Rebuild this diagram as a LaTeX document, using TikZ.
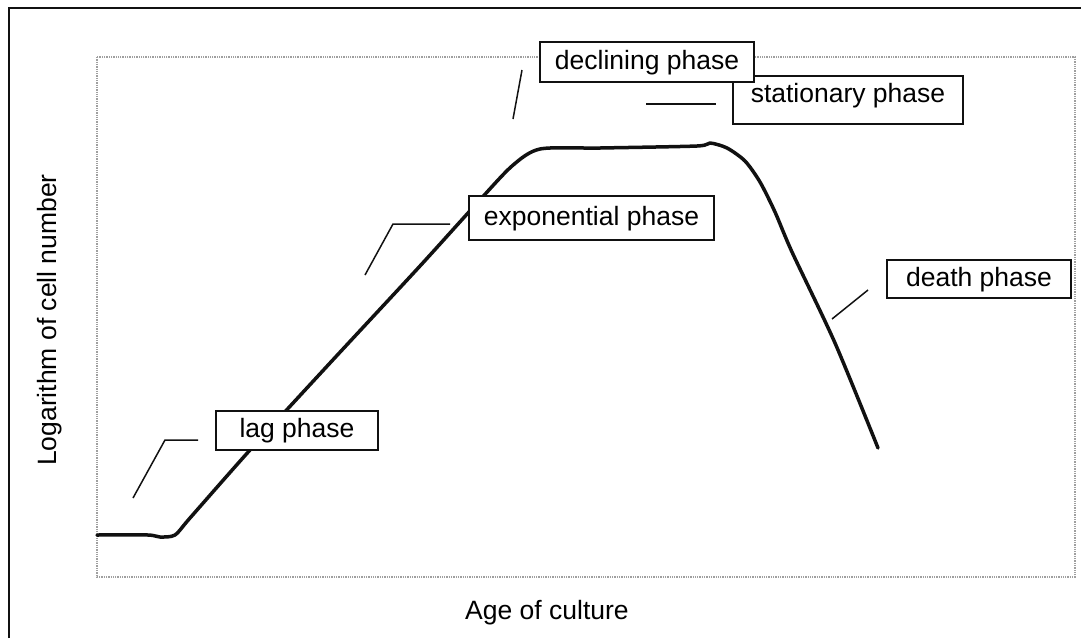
\documentclass[tikz,border=0pt]{standalone}
\usepackage{fontspec}
\setmainfont{Liberation Sans}
\usetikzlibrary{positioning,calc}
\definecolor{Ink}{HTML}{111111}
\tikzset{
  phasebox/.style={draw=Ink,line width=1.9pt,fill=white,inner sep=0pt,
    font=\fontsize{26.5}{30}\selectfont,text height=19pt,text depth=5pt},
  leader/.style={draw=Ink,line width=1.5pt},
  growth/.style={draw=Ink,line width=3.5pt,line join=round,line cap=round},
}
\newcommand{\PhaseBox}[6]{%
  \node[phasebox,minimum width=#4pt,minimum height=#5pt] (#1) at (#2,#3) {#6};%
}

\begin{document}
\begin{tikzpicture}[x=1pt,y=-1pt]
\useasboundingbox (0,0) rectangle (1090,638);
% outer frame
\draw[Ink,line width=1.7pt] (9,638) -- (9,8) -- (1081,8);
% plot area
\draw[gray!75,line width=1.3pt,densely dotted] (97,57) rectangle (1075,577);
% growth curve
\draw[growth] plot[smooth,tension=0.45] coordinates {
  (97,535) (148,535) (160,537) (175,535) (190,518) (250,450) (330,363)
  (420,266) (478,202) (512,166) (540,149) (600,148) (697,146) (710,143)
  (727,148) (745,161) (760,182) (775,212) (792,252) (835,343) (878,448)};
% phase labels
\PhaseBox{lag}{297}{430.5}{162}{39}{lag phase}
\PhaseBox{expo}{591.5}{218}{245}{44}{exponential phase}
\PhaseBox{stat}{848}{100}{230}{48}{\raisebox{5pt}{stationary phase}}
\PhaseBox{decl}{647}{62}{214}{40}{declining phase}
\PhaseBox{death}{979}{279}{184}{38}{death phase}
% leader lines
\coordinate (lagtip) at (133,498);
\coordinate (expotip) at (365,275);
\coordinate (decltip) at (513,119);
\coordinate (stattip) at (646,104);
\coordinate (deathtip) at (832,319);
\draw[leader] (lagtip) -- ++(32,-58) -- ++(33,0);
\draw[leader] (expotip) -- ++(28,-51) -- ++(57,0);
\draw[leader] (decltip) -- ++(9,-49);
\draw[leader] (stattip) -- ++(70,0);
\draw[leader] (deathtip) -- ++(36,-29);
% axis titles
\node[font=\fontsize{26.5}{30}\selectfont,rotate=90] (ylab) at (50,320) {Logarithm of cell number};
\node[font=\fontsize{26.5}{30}\selectfont] (xlab) at (547,613) {Age of culture};
\end{tikzpicture}
\end{document}
